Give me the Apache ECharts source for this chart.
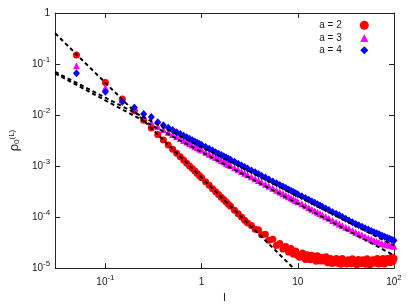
<!DOCTYPE html>
<html>
<head>
<meta charset="utf-8">
<script src="https://cdn.jsdelivr.net/npm/echarts@6/dist/echarts.min.js"></script>
<style>
html,body{margin:0;padding:0;background:#fff;}
#chart{width:409px;height:308px;}
</style>
</head>
<body>
<div id="chart"></div>
<script>
// ---- data ----
const L_VALUES = [
  0.05,0.1,0.15,0.2,0.25,0.3,0.35,0.4,0.45,0.5,0.55,0.6,0.65,0.7,0.75,0.8,0.85,0.9,0.95,1,
  1.1,1.2,1.3,1.4,1.5,1.6,1.7,1.8,1.9,2,
  2.2,2.4,2.6,2.8,3,3.3,3.6,3.9,4.2,4.6,5,5.5,6,6.5,7,7.5,8,8.5,9,9.5,10,
  11,12,13,14,15,16,17,18,19.5,21,23,25,27,29,31.5,34,37,40,43,46.5,50,54,58,62,66,70,75,80,85,90,95,100
];
// a = 2 : values for the first 51 l values (up to l = 10)
const RHO_A2 = [
  0.151,0.0432,0.0206,0.0121,0.0079,0.0056,0.00414,0.00323,0.00260,0.00213,0.00179,0.00152,0.00131,0.00114,0.00100,0.000891,0.000798,0.000716,0.000647,0.000589,
  0.000494,0.000420,0.000361,0.000315,0.000277,0.000246,0.000220,0.000198,0.000179,0.000163,
  0.000136,0.000116,0.0000998,0.0000869,0.0000766,0.0000687,0.0000575,0.0000562,0.0000451,0.0000461,0.0000353,0.0000369,0.0000277,0.0000303,0.0000237,0.0000265,0.0000207,0.0000243,0.0000186,0.0000217,0.0000174
];
// a = 2 : dense noisy plateau for l > 10
const L_TAIL_A2 = [
  10.4,10.8,11.2,11.6,12,12.5,13,13.5,14,14.5,15,15.5,16,16.6,17.2,17.8,18.4,19,19.7,20.4,21.1,21.9,22.7,23.5,24.3,25.2,26.1,27,28,29,30,31,32.2,33.4,34.6,35.8,37,38.3,39.7,41.1,42.6,44.1,45.7,47.3,49,50.7,52.5,54.4,56.3,58.3,60.4,62.5,64.7,67,69.4,71.9,74.5,77.1,79.8,82.6,85.5,88.5,91.6,94.8,97.4,100
];
const RHO_TAIL_A2 = [
  1.64e-5,1.84e-5,1.98e-5,1.64e-5,1.48e-5,1.82e-5,1.64e-5,1.45e-5,1.79e-5,1.52e-5,1.67e-5,1.36e-5,1.75e-5,1.48e-5,1.38e-5,1.63e-5,1.38e-5,1.53e-5,1.66e-5,1.28e-5,
  1.42e-5,1.54e-5,1.23e-5,1.42e-5,1.33e-5,1.54e-5,1.25e-5,1.46e-5,1.19e-5,1.54e-5,1.29e-5,1.40e-5,1.20e-5,1.46e-5,1.33e-5,1.22e-5,1.52e-5,1.24e-5,1.39e-5,1.16e-5,
  1.48e-5,1.30e-5,1.22e-5,1.45e-5,1.36e-5,1.19e-5,1.52e-5,1.27e-5,1.16e-5,1.42e-5,1.46e-5,1.25e-5,1.31e-5,1.54e-5,1.21e-5,1.42e-5,1.25e-5,1.54e-5,1.21e-5,1.42e-5,
  1.54e-5,1.35e-5,1.28e-5,1.65e-5,1.36e-5,1.54e-5
];
const RHO_A3 = [
  0.0927,0.0345,0.0199,0.0130,0.00935,0.00718,0.00597,0.00521,0.00462,0.00416,0.00378,0.00346,0.00318,0.00296,0.00276,0.00258,0.00243,0.00230,0.00217,0.00206,
  0.00187,0.00171,0.00158,0.00147,0.00137,0.00128,0.00121,0.00114,0.00107,0.00102,
  0.000929,0.000849,0.000783,0.000726,0.000678,0.000614,0.000564,0.000520,0.000482,0.000440,0.000404,0.000367,0.000336,0.000310,0.000287,0.000268,0.000251,0.000236,0.000223,0.000211,0.000200,
  0.000182,0.000166,0.000153,0.000143,0.000133,0.000124,0.000117,0.000110,0.000102,0.0000944,0.0000861,0.0000791,0.0000733,0.0000682,0.0000634,0.0000594,0.0000545,0.0000504,0.0000473,0.0000443,0.0000416,0.0000389,0.0000366,0.0000346,0.0000332,0.0000321,0.0000305,0.0000293,0.0000286,0.0000279,0.0000273,0.0000269
];
const RHO_A4 = [
  0.0663,0.0286,0.0183,0.0141,0.0105,0.00916,0.00724,0.00629,0.00561,0.00507,0.00462,0.00425,0.00394,0.00366,0.00343,0.00322,0.00304,0.00287,0.00272,0.00259,
  0.00237,0.00218,0.00201,0.00187,0.00175,0.00165,0.00156,0.00147,0.00139,0.00133,
  0.00121,0.00111,0.00103,0.000959,0.000897,0.000818,0.000753,0.000697,0.000649,0.000594,0.000548,0.000500,0.000459,0.000426,0.000396,0.000371,0.000348,0.000329,0.000310,0.000294,0.000281,
  0.000256,0.000236,0.000218,0.000203,0.000190,0.000178,0.000168,0.000159,0.000147,0.000137,0.000125,0.000116,0.000108,0.000100,0.0000927,0.0000861,0.0000793,0.0000735,0.0000690,0.0000646,0.0000607,0.0000569,0.0000536,0.0000507,0.0000481,0.0000459,0.0000435,0.0000413,0.0000394,0.0000377,0.0000361,0.0000348
];
// dashed fit lines: end points [l, rho]
const FIT_A2 = [[0.03, 0.40], [10, 8.2e-6]];
const FIT_A3 = [[0.03, 0.0655], [100, 1.78e-5]];
const FIT_A4 = [[0.03, 0.070], [100, 2.77e-5]];

const SERIES_NAMES = ['a = 2', 'a = 3', 'a = 4'];
const X_TICK_VALUES = [0.1, 1, 10, 100];
const X_TICK_TEXT = ['{b|10}{s|-1}', '{b|1}', '{b|10}', '{b|10}{s|2}'];
const Y_TICK_VALUES = [1, 0.1, 0.01, 0.001, 0.0001, 0.00001];
const Y_TICK_TEXT = ['{b|1}', '{b|10}{s|-1}', '{b|10}{s|-2}', '{b|10}{s|-3}', '{b|10}{s|-4}', '{b|10}{s|-5}'];

// ---- chart ----
const FONT = 'Liberation Sans, Arial, Helvetica, sans-serif';
const TXT = '#1a1a1a';
const AX = '#222';
const rich = {
  b: {fontSize: 10, fontFamily: FONT, color: TXT, padding: [3, 0, 3, 0]},
  s: {fontSize: 8, fontFamily: FONT, color: TXT, verticalAlign: 'top'}
};
function lookup(vals, texts) {
  return function (v) {
    for (let i = 0; i < vals.length; i++) {
      if (Math.abs(Math.log10(v) - Math.log10(vals[i])) < 1e-6) return texts[i];
    }
    return '';
  };
}
const zip = (xs, ys) => ys.map((y, i) => [xs[i], y]);

const axisLine = {show: true, onZero: false, lineStyle: {color: AX, width: 1}};
const axisTick = {show: true, inside: true, length: 5, lineStyle: {color: AX, width: 1}};
const legendText = (pad) => ({fontSize: 10, fontFamily: FONT, color: TXT, padding: [0, pad, 0, 0]});

const chart = echarts.init(document.getElementById('chart'), null, {renderer: 'canvas'});
const dash = {color: '#000', width: 2, type: [4, 3]};
chart.setOption({
  animation: false,
  backgroundColor: '#fff',
  grid: {left: 53, right: 15, top: 13, bottom: 35, containLabel: false},
  legend: [
    {data: [SERIES_NAMES[0]], orient: 'vertical', align: 'right', right: 40.2, top: 20.2, padding: 0,
     itemWidth: 9, itemHeight: 9, textStyle: legendText(13.1)},
    {data: [SERIES_NAMES[1]], orient: 'vertical', align: 'right', right: 40.7, top: 33, padding: 0,
     itemWidth: 8, itemHeight: 8, textStyle: legendText(13.6)},
    {data: [SERIES_NAMES[2]], orient: 'vertical', align: 'right', right: 40.7, top: 45.3, padding: 0,
     itemWidth: 8, itemHeight: 8, textStyle: legendText(13.6)}
  ],
  xAxis: [
    {type: 'log', logBase: 10, min: 0.03, max: 100, position: 'bottom',
     axisLine, axisTick, splitLine: {show: false}, minorTick: {show: false},
     axisLabel: {show: true, margin: 6, showMinLabel: false, formatter: lookup(X_TICK_VALUES, X_TICK_TEXT), rich},
     name: 'l', nameLocation: 'middle', nameGap: 21,
     nameTextStyle: {fontSize: 11, fontFamily: FONT, color: TXT}},
    {type: 'log', logBase: 10, min: 0.03, max: 100, position: 'top',
     axisLine, axisTick, splitLine: {show: false}, axisLabel: {show: false}}
  ],
  yAxis: [
    {type: 'log', logBase: 10, min: 1e-5, max: 1, position: 'left',
     axisLine, axisTick, splitLine: {show: false},
     axisLabel: {show: true, margin: 5, formatter: lookup(Y_TICK_VALUES, Y_TICK_TEXT), rich},
     name: '{r|ρ}{d|0}{u|(L)}', nameLocation: 'middle', nameGap: 28, nameRotate: 90,
     nameTextStyle: {fontFamily: FONT, color: TXT, rich: {
       r: {fontSize: 13, fontFamily: FONT, color: TXT},
       d: {fontSize: 8, fontFamily: FONT, color: TXT, verticalAlign: 'bottom'},
       u: {fontSize: 8, fontFamily: FONT, color: TXT, verticalAlign: 'top'}
     }}},
    {type: 'log', logBase: 10, min: 1e-5, max: 1, position: 'right',
     axisLine, axisTick, splitLine: {show: false}, axisLabel: {show: false}}
  ],
  series: [
    {name: SERIES_NAMES[0], type: 'scatter',
     data: zip(L_VALUES, RHO_A2).concat(zip(L_TAIL_A2, RHO_TAIL_A2)),
     symbol: 'circle', symbolSize: 7, itemStyle: {color: '#ff0000', opacity: 1}, z: 2},
    {name: SERIES_NAMES[1], type: 'scatter', data: zip(L_VALUES, RHO_A3), symbol: 'triangle', symbolSize: 7,
     itemStyle: {color: '#ff00ff', opacity: 1}, z: 2},
    {name: SERIES_NAMES[2], type: 'scatter', data: zip(L_VALUES, RHO_A4), symbol: 'diamond', symbolSize: [7, 8],
     itemStyle: {color: '#0000ff', opacity: 1}, z: 2},
    {type: 'line', data: FIT_A2, showSymbol: false, symbol: 'none', lineStyle: dash, silent: true, z: 3, clip: true},
    {type: 'line', data: FIT_A3, showSymbol: false, symbol: 'none', lineStyle: dash, silent: true, z: 3, clip: true},
    {type: 'line', data: FIT_A4, showSymbol: false, symbol: 'none', lineStyle: dash, silent: true, z: 3, clip: true}
  ]
});
</script>
</body>
</html>
